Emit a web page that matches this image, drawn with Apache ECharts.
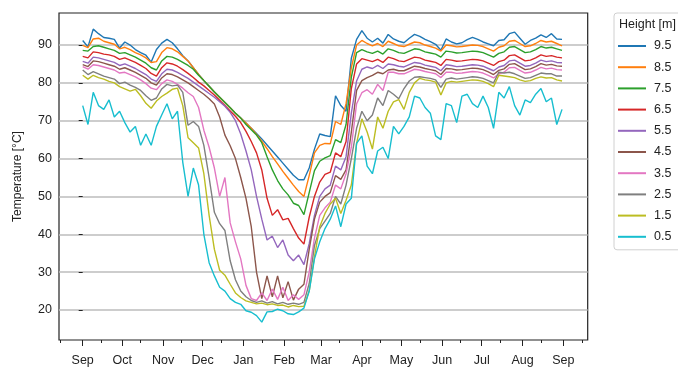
<!DOCTYPE html>
<html>
<head>
<meta charset="utf-8">
<script src="https://cdn.jsdelivr.net/npm/echarts@6/dist/echarts.min.js"></script>
<style>
  html, body { margin: 0; padding: 0; background: #fff; }
  #chart { width: 678px; height: 367px; }
</style>
</head>
<body>
<div id="chart"></div>
<script>
// x = days since 1 Sep
const days = [0, 4, 8, 12, 16, 20, 24, 28, 32, 36, 40, 44, 48, 52, 56, 60, 64, 68, 72, 76,
  80, 84, 88, 92, 96, 100, 104, 108, 112, 116, 120, 124, 128, 132, 136, 140, 144, 148, 152, 156,
  160, 164, 168, 172, 176, 180, 184, 188, 192, 196, 200, 204, 208, 212, 216, 220, 224, 228, 232, 236,
  240, 244, 248, 252, 256, 260, 264, 268, 272, 276, 280, 284, 288, 292, 296, 300, 304, 308, 312, 316,
  320, 324, 328, 332, 336, 340, 344, 348, 352, 356, 360, 364];

const t95 = [91.2, 89.5, 94.2, 93.0, 92.0, 91.8, 91.5, 89.2, 90.8, 90.0, 88.8, 88.0, 87.3, 85.5, 88.8, 90.5, 91.5, 90.6, 89.0, 87.2,
  85.8, 84.0, 82.2, 80.6, 79.1, 77.6, 76.2, 74.8, 73.4, 72.0, 70.7, 69.4, 68.0, 66.6, 65.2, 63.6, 62.0, 60.4, 58.8, 57.2,
  55.6, 54.4, 54.4, 57.5, 62.5, 66.5, 66.1, 65.8, 76.6, 74.0, 72.5, 86.5, 91.5, 93.8, 91.8, 90.8, 91.8, 90.5, 92.8, 91.6,
  91.0, 90.6, 91.8, 92.8, 92.3, 91.5, 90.9, 90.2, 88.6, 91.6, 90.8, 90.3, 90.6, 91.4, 92.0, 91.5, 90.8, 90.3, 89.8, 91.2,
  91.4, 93.0, 93.4, 91.8, 90.2, 91.2, 91.8, 92.7, 92.0, 93.0, 91.6, 91.5];
const t85 = [89.9, 89.3, 91.6, 91.8, 91.0, 90.6, 90.2, 89.0, 89.4, 88.8, 88.0, 87.4, 86.6, 85.4, 85.6, 88.0, 89.3, 89.0, 88.2, 87.0,
  85.8, 84.0, 82.2, 80.6, 79.1, 77.6, 76.2, 74.8, 73.4, 72.0, 70.7, 69.4, 68.0, 66.4, 64.6, 62.6, 60.5, 58.6, 56.6, 54.8,
  53.0, 51.3, 50.0, 55.5, 61.5, 63.5, 64.0, 63.9, 69.8, 69.0, 74.5, 84.0, 90.0, 91.2, 90.4, 89.8, 90.4, 89.6, 91.0, 90.4,
  89.8, 89.6, 90.2, 90.8, 90.6, 90.0, 89.6, 89.2, 88.4, 90.0, 89.8, 89.5, 89.6, 89.8, 90.0, 89.9, 89.6, 89.0, 88.4, 89.4,
  89.8, 91.0, 91.2, 90.4, 89.6, 89.8, 90.4, 91.2, 90.8, 91.0, 90.4, 89.8];
const t75 = [88.6, 88.4, 89.6, 89.8, 89.4, 89.0, 88.6, 87.8, 88.0, 87.4, 86.8, 86.0, 85.2, 84.0, 83.4, 85.8, 87.0, 86.8, 86.2, 85.4,
  84.6, 83.6, 82.0, 80.6, 79.1, 77.6, 76.2, 74.8, 73.4, 72.0, 70.7, 69.0, 67.6, 66.2, 64.2, 60.5, 57.0, 54.2, 52.0, 50.4,
  48.2, 47.6, 45.2, 51.0, 56.8, 59.3, 60.2, 60.8, 65.0, 64.2, 69.0, 81.5, 88.0, 88.8, 88.2, 87.8, 88.4, 87.6, 89.0, 88.6,
  88.0, 87.8, 88.4, 89.0, 88.8, 88.2, 87.9, 87.6, 86.8, 88.4, 88.2, 87.9, 88.0, 88.2, 88.4, 88.3, 88.0, 87.4, 86.8, 87.8,
  88.2, 89.4, 89.6, 88.8, 88.0, 88.2, 88.8, 89.6, 89.2, 89.4, 89.0, 88.6];
const t65 = [87.0, 86.6, 88.2, 88.0, 87.6, 87.4, 87.0, 86.2, 86.6, 86.0, 85.4, 84.6, 83.8, 82.5, 81.8, 84.0, 85.3, 85.0, 84.4, 83.5,
  82.5, 81.4, 80.2, 79.2, 78.0, 76.8, 75.4, 74.0, 72.6, 71.2, 69.5, 67.2, 64.5, 61.5, 57.0, 49.5, 45.0, 46.5, 43.8, 44.2,
  41.5, 39.0, 37.4, 44.5, 50.0, 53.8, 55.8, 56.4, 61.5, 60.5, 64.5, 78.5, 85.0, 86.4, 86.0, 85.6, 86.2, 85.4, 86.8, 86.4,
  85.8, 85.6, 86.2, 86.8, 86.6, 86.0, 85.7, 85.4, 84.6, 86.2, 86.0, 85.7, 85.8, 86.0, 86.2, 86.1, 85.8, 85.2, 84.6, 85.6,
  86.0, 87.2, 87.4, 86.6, 85.8, 86.0, 86.6, 87.4, 87.0, 87.2, 86.8, 86.6];
const t55 = [85.7, 85.2, 86.8, 86.6, 86.2, 85.8, 85.4, 84.6, 85.0, 84.4, 83.8, 83.0, 82.2, 81.0, 80.4, 82.4, 83.6, 83.4, 82.8, 82.0,
  81.2, 80.2, 79.2, 78.2, 77.2, 76.2, 75.0, 73.8, 72.2, 70.0, 66.5, 62.0, 57.0, 50.0, 44.0, 38.5, 39.5, 36.5, 38.5, 34.5,
  33.0, 34.5, 32.0, 37.5, 45.0, 50.0, 52.0, 53.0, 58.0, 57.0, 60.5, 72.0, 80.5, 83.6, 84.2, 83.8, 84.6, 83.8, 85.0, 84.8,
  84.4, 84.2, 84.8, 85.4, 85.2, 84.7, 84.4, 84.1, 83.2, 84.8, 84.6, 84.3, 84.4, 84.6, 84.8, 84.7, 84.4, 83.8, 83.2, 84.2,
  84.6, 85.8, 86.0, 85.2, 84.4, 84.6, 85.2, 86.0, 85.6, 85.8, 85.4, 85.3];
const t45 = [84.8, 84.3, 85.8, 85.6, 85.2, 84.8, 84.4, 83.6, 84.0, 83.4, 82.8, 82.0, 81.2, 80.0, 79.4, 81.3, 82.4, 82.2, 81.6, 80.8,
  80.0, 79.0, 78.0, 77.0, 75.8, 74.4, 71.0, 66.2, 63.4, 60.0, 55.0, 49.5, 42.0, 30.0, 23.0, 29.0, 23.5, 29.0, 23.2, 27.5,
  22.6, 25.5, 26.8, 36.0, 44.0, 48.5, 50.0, 51.0, 55.5, 54.5, 57.0, 67.0, 78.0, 80.6, 81.4, 82.0, 82.8, 82.4, 83.4, 83.6,
  83.2, 83.2, 83.8, 84.4, 84.2, 83.8, 83.5, 83.2, 82.2, 83.8, 83.7, 83.4, 83.5, 83.7, 83.9, 83.8, 83.5, 82.9, 82.2, 83.3,
  83.7, 84.9, 85.1, 84.3, 83.5, 83.7, 84.3, 85.1, 84.7, 84.9, 84.5, 84.4];
const t35 = [84.3, 83.6, 84.8, 84.6, 84.2, 83.8, 83.4, 82.6, 82.8, 82.2, 81.6, 80.8, 79.8, 78.6, 78.2, 79.8, 80.8, 80.4, 79.6, 78.6,
  77.4, 76.4, 73.5, 67.5, 63.0, 57.5, 50.0, 55.0, 43.0, 38.0, 33.5, 26.5, 23.0, 22.5, 24.5, 22.5, 25.5, 22.8, 26.0, 22.5,
  24.0, 22.8, 24.0, 30.0, 39.0, 45.0, 47.0, 48.5, 53.0, 52.0, 56.0, 63.0, 74.5, 77.4, 78.2, 77.0, 79.6, 78.0, 82.8, 82.8,
  82.4, 82.4, 83.0, 83.6, 83.4, 83.0, 82.7, 82.4, 81.4, 82.8, 82.8, 82.5, 82.6, 82.8, 83.0, 82.9, 82.6, 82.0, 81.3, 82.4,
  82.8, 84.0, 84.1, 83.3, 82.6, 82.8, 83.4, 84.1, 83.7, 83.9, 83.5, 83.4];
const t25 = [83.4, 82.2, 83.0, 82.4, 81.8, 81.4, 81.0, 79.8, 80.2, 79.4, 78.8, 78.0, 76.6, 75.4, 76.0, 78.4, 79.6, 79.2, 79.4, 77.5,
  68.8, 69.8, 68.5, 63.5, 55.0, 45.8, 42.8, 41.0, 33.0, 28.0, 25.0, 23.5, 22.5, 22.0, 22.4, 21.8, 22.2, 21.6, 22.0, 21.5,
  21.8, 21.5, 22.0, 27.0, 37.0, 41.5, 43.5, 45.5, 50.0, 48.0, 53.0, 60.0, 68.0, 72.5, 70.0, 71.5, 76.0, 74.0, 78.0, 77.0,
  75.8, 78.5, 80.5, 81.5, 81.6, 81.4, 81.2, 80.8, 78.8, 81.0, 81.3, 81.0, 81.2, 81.4, 81.6, 81.5, 81.2, 80.6, 80.0, 82.8,
  82.6, 82.8, 82.4, 81.8, 81.2, 81.4, 82.0, 82.6, 82.4, 82.4, 81.8, 81.8];
const t15 = [82.0, 81.0, 82.0, 81.4, 81.0, 80.4, 80.0, 79.0, 78.4, 77.8, 78.3, 76.6, 74.6, 73.3, 75.2, 76.4, 77.3, 78.3, 78.6, 74.0,
  65.5, 64.2, 62.8, 56.0, 45.0, 36.0, 30.5, 29.2, 26.8, 24.5, 23.3, 22.4, 22.0, 21.6, 21.8, 21.4, 21.6, 21.2, 21.3, 20.8,
  21.2, 20.9, 21.0, 25.0, 34.0, 42.0, 45.5, 48.0, 49.5, 45.5, 49.0, 53.0, 64.0, 70.5, 67.0, 62.5, 71.0, 68.0, 72.5, 75.0,
  75.6, 73.0, 77.5, 80.0, 81.2, 80.8, 80.6, 80.2, 76.8, 80.0, 80.4, 80.2, 80.4, 80.6, 80.8, 80.7, 80.4, 79.8, 79.0, 82.0,
  81.8, 81.6, 81.4, 80.8, 80.4, 80.6, 81.2, 81.6, 81.3, 81.4, 80.8, 80.5];
const t05 = [74.0, 69.0, 77.5, 74.0, 73.0, 75.5, 71.0, 72.5, 69.5, 67.0, 68.5, 63.5, 66.5, 63.5, 68.5, 71.5, 74.5, 70.5, 72.5, 59.0,
  50.0, 57.5, 53.0, 40.0, 32.5, 29.0, 26.0, 25.0, 23.0, 22.0, 21.5, 19.8, 19.4, 18.5, 16.8, 19.5, 19.6, 20.2, 19.8, 19.0,
  18.8, 19.5, 20.5, 25.0, 33.5, 38.0, 41.5, 44.0, 47.5, 42.0, 48.0, 49.5, 64.0, 66.0, 58.0, 56.0, 62.0, 63.0, 60.0, 68.5,
  66.5, 68.5, 71.0, 76.5, 76.0, 73.5, 72.0, 66.0, 65.0, 74.5, 74.0, 69.5, 76.5, 77.0, 74.5, 73.5, 76.5, 73.5, 68.0, 77.5,
  76.0, 79.0, 74.0, 71.5, 75.5, 74.8, 77.0, 78.5, 75.0, 76.0, 69.0, 73.0];

const heights = ['9.5', '8.5', '7.5', '6.5', '5.5', '4.5', '3.5', '2.5', '1.5', '0.5'];
const temps = [t95, t85, t75, t65, t55, t45, t35, t25, t15, t05];
const colors = ['#1f77b4', '#ff7f0e', '#2ca02c', '#d62728', '#9467bd',
  '#8c564b', '#e377c2', '#7f7f7f', '#bcbd22', '#17becf'];

const monthDays = [0, 30, 61, 91, 122, 153, 181, 212, 242, 273, 303, 334, 365];
const monthNames = ['Sep', 'Oct', 'Nov', 'Dec', 'Jan', 'Feb', 'Mar', 'Apr', 'May', 'Jun', 'Jul', 'Aug', 'Sep'];
const midMonthDays = [-17, 14, 44, 75, 105, 136, 167, 195, 226, 256, 287, 317, 348, 379];
const yTicks = [20, 30, 40, 50, 60, 70, 80, 90];

const font = 'Liberation Sans, Arial, sans-serif';
const ink = '#222';

const chart = echarts.init(document.getElementById('chart'), null, { renderer: 'canvas' });

const series = heights.map((h, k) => ({
  name: h,
  type: 'line',
  symbol: 'none',
  showSymbol: false,
  animation: false,
  lineStyle: { width: 1.4, color: colors[k] },
  itemStyle: { color: colors[k] },
  data: days.map((d, i) => [d, temps[k][i]])
}));

chart.setOption({
  animation: false,
  title: {
    text: 'Height [m]',
    left: 619,
    top: 18,
    padding: 0,
    textStyle: { fontSize: 12.5, fontWeight: 'normal', color: ink, fontFamily: font }
  },
  grid: {
    left: 59,
    top: 13,
    width: 528.7,
    height: 330,
    show: true,
    borderColor: ink,
    borderWidth: 1.2
  },
  legend: {
    orient: 'vertical',
    left: 614,
    top: 13,
    icon: 'rect',
    itemWidth: 28,
    itemHeight: 2,
    itemGap: 7.2,
    padding: [26, 22, 6, 4],
    backgroundColor: '#fff',
    borderColor: '#d0d0d0',
    borderWidth: 1,
    borderRadius: 3,
    textStyle: { fontSize: 12.5, lineHeight: 14, color: ink, fontFamily: font, padding: [0, 0, 0, 3] },
    data: heights
  },
  xAxis: [
    {
      type: 'value',
      min: -18,
      max: 383.5,
      position: 'bottom',
      axisLine: { show: false },
      axisTick: { show: true, customValues: monthDays, length: 6, lineStyle: { color: ink, width: 1 } },
      axisLabel: {
        customValues: monthDays,
        margin: 14,
        fontSize: 12.5,
        color: ink,
        fontFamily: font,
        formatter: (v) => monthNames[monthDays.indexOf(v)]
      },
      splitLine: { show: false }
    },
    {
      type: 'value',
      min: -18,
      max: 383.5,
      position: 'bottom',
      axisLine: { show: false },
      axisTick: { show: true, customValues: midMonthDays, length: 3, lineStyle: { color: ink, width: 1 } },
      axisLabel: { show: false },
      splitLine: { show: false }
    }
  ],
  yAxis: {
    type: 'value',
    min: 12.07,
    max: 98.46,
    name: 'Temperature [°C]',
    nameLocation: 'middle',
    nameGap: 35,
    nameTextStyle: { fontSize: 12, color: ink, fontFamily: font },
    axisLine: { show: false },
    axisTick: { show: true, customValues: yTicks, length: 4, lineStyle: { color: ink, width: 1 } },
    axisLabel: { customValues: yTicks, margin: 7, fontSize: 12.5, color: ink, fontFamily: font },
    splitLine: { show: true, lineStyle: { color: '#bdbdbd', width: 1.5 } }
  },
  series
});

window.addEventListener('resize', () => chart.resize());
</script>
</body>
</html>
